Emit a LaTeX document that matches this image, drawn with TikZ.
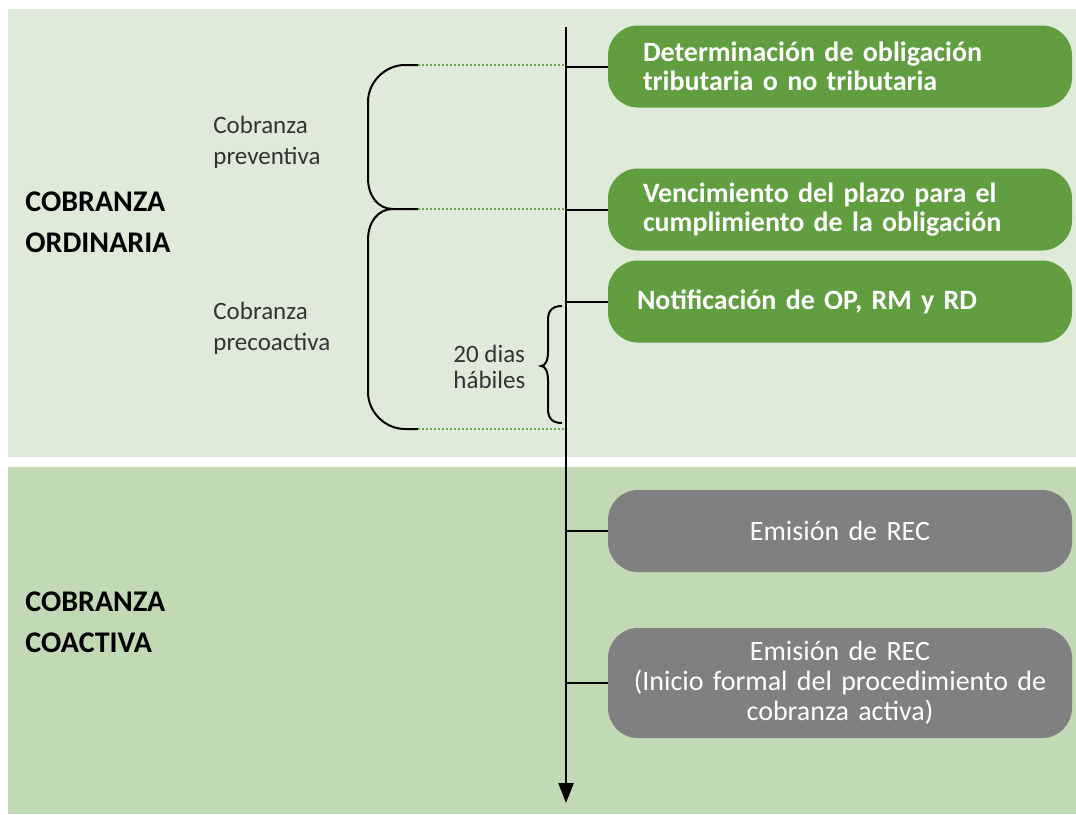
\documentclass[tikz,border=0pt]{standalone}
\usepackage{fontspec}
\setmainfont{Carlito}
\usetikzlibrary{arrows.meta}
\definecolor{bandtop}{RGB}{224,234,217}
\definecolor{bandlow}{RGB}{194,217,181}
\definecolor{boxgreen}{RGB}{96,158,64}
\definecolor{boxgray}{RGB}{128,128,128}
\definecolor{dotgreen}{RGB}{106,170,72}
\tikzset{
  stagebox/.style={rounded corners=15pt, minimum width=232pt, minimum height=41pt, text=white},
  greenbox/.style={stagebox, fill=boxgreen, font=\bfseries\fontsize{14}{14.5}\selectfont, text width=197pt, align=left, inner xsep=17.5pt},
  graybox/.style={stagebox, fill=boxgray, font=\fontsize{14}{15}\selectfont, text width=220pt, align=center, inner xsep=6pt},
  phase/.style={font=\bfseries\fontsize{15}{20.5}\selectfont, align=left, anchor=west, inner sep=0pt},
  sublabel/.style={font=\fontsize{12.5}{15.5}\selectfont, text=black!80, align=left, anchor=west, inner sep=0pt},
  link/.style={line width=1pt},
  bracket/.style={line width=1pt},
  guide/.style={dotgreen, line width=1pt, dash pattern=on 1pt off 1pt}
}
\begin{document}
\begin{tikzpicture}[x=0.5pt,y=-0.5pt]
  \useasboundingbox (0,0) rectangle (1076,814);
  \fill[bandtop] (8,9) rectangle (1076,457);
  \fill[bandlow] (8,467) rectangle (1076,814);

  \coordinate (axtop) at (566,27);
  \coordinate (axend) at (566,803);
  \coordinate (p1) at (418,65);
  \coordinate (p2) at (418,209);
  \coordinate (p3) at (418,429);

  \node[greenbox] (det) at (840,66.5) {Determinación de obligación\\tributaria o no tributaria};
  \node[greenbox] (ven) at (840,209.5) {Vencimiento del plazo para el\\cumplimiento de la obligación};
  \node[greenbox, inner xsep=14.5pt, text width=203pt] (noti) at (840,301.5) {Notificación de OP, RM y RD};
  \node[graybox] (rec) at (840,531) {Emisión de REC};
  \node[graybox, minimum height=55pt] (inicio) at (840,683) {Emisión de REC\\(Inicio formal del procedimiento de\\cobranza activa)};

  \node[phase] (ord) at (25,222) {COBRANZA\\ORDINARIA};
  \node[phase] (coa) at (25,622) {COBRANZA\\COACTIVA};
  \node[sublabel] (prev) at (213,142) {Cobranza\\preventiva};
  \node[sublabel] (prec) at (213,328) {Cobranza\\precoactiva};
  \node[sublabel, font=\fontsize{12.5}{13}\selectfont] (dias) at (453,367) {20 dias\\hábiles};

  \draw[bracket] (p1) -- (405,65) .. controls (385,65) and (368,82) .. (368,102) -- (368,178) .. controls (368,196) and (378,209) .. (393,209) -- (p2);
  \draw[bracket] (393,209) .. controls (378,209) and (368,222) .. (368,240) -- (368,392) .. controls (368,412) and (385,429) .. (405,429) -- (p3);
  \draw[bracket] (562,306) .. controls (553,306) and (548,310) .. (548,320) -- (548,352) .. controls (548,361) and (545,366) .. (541,366) .. controls (545,366) and (548,371) .. (548,380) -- (548,409) .. controls (548,419) and (553,423) .. (562,423);

  \foreach \p in {p1,p2,p3}
    \draw[guide] (\p) -- (\p -| axtop);

  \draw[line width=1.2pt, -{Triangle[length=10pt,width=7.5pt]}] (axtop) -- (axend);
  \foreach \b in {det,ven,noti,rec,inicio}
    \draw[link] (axtop |- \b.west) -- (\b.west);
\end{tikzpicture}
\end{document}
